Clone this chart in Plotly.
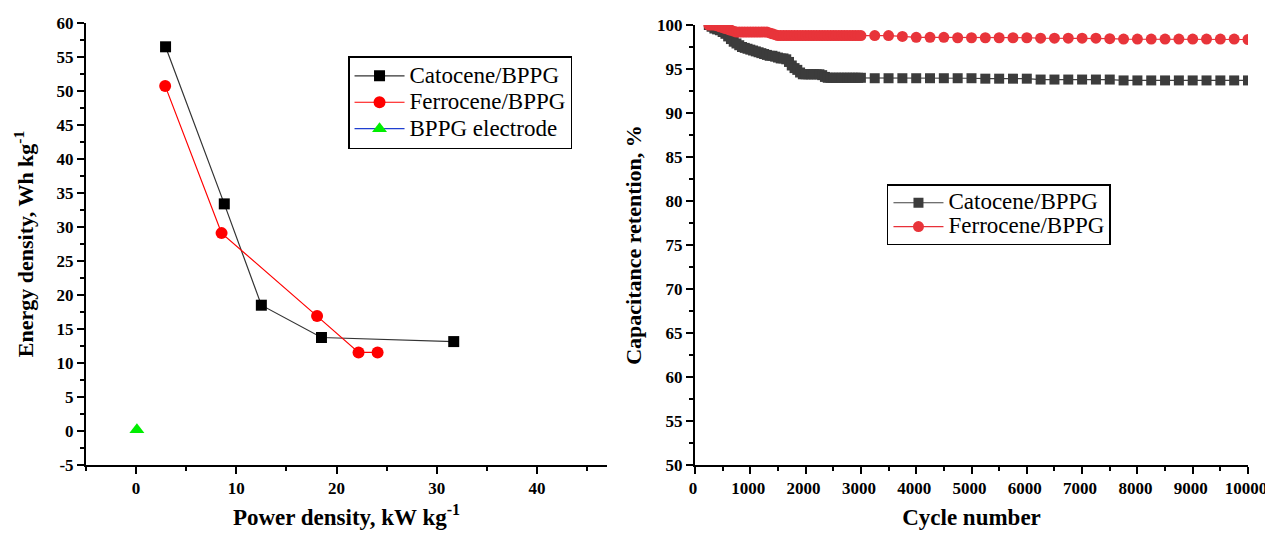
import plotly.graph_objects as go

# ---------------- Left panel data (Ragone plot) ----------------
cat_power = [2.94, 8.8, 12.5, 18.5, 31.7]
cat_energy = [56.5, 33.4, 18.5, 13.75, 13.15]
fer_power = [2.9, 8.53, 18.06, 22.2, 24.1]
fer_energy = [50.75, 29.1, 16.9, 11.55, 11.55]
bppg_power = [0.08]
bppg_energy = [0.2]

left_x_ticks = [0, 10, 20, 30, 40]
left_x_labels = ["0", "10", "20", "30", "40"]
left_y_ticks = [-5, 0, 5, 10, 15, 20, 25, 30, 35, 40, 45, 50, 55, 60]
left_y_labels = ["-5", "0", "5", "10", "15", "20", "25", "30", "35", "40", "45", "50", "55", "60"]

# ---------------- Right panel data (cycling stability) ----------------
right_x_ticks = [0, 1000, 2000, 3000, 4000, 5000, 6000, 7000, 8000, 9000, 10000]
right_x_labels = ["0", "1000", "2000", "3000", "4000", "5000", "6000", "7000", "8000", "9000", "10000"]
right_y_ticks = [50, 55, 60, 65, 70, 75, 80, 85, 90, 95, 100]
right_y_labels = ["50", "55", "60", "65", "70", "75", "80", "85", "90", "95", "100"]

dense_cycles = list(range(250, 3001, 50))
sparse_cycles = list(range(3250, 10001, 250))
cat_dense = [100.0, 99.8, 99.6, 99.5, 99.4, 99.2, 99.0, 98.7, 98.4, 98.1,
             97.9, 97.7, 97.5, 97.4, 97.3, 97.2, 97.1, 97.0, 96.9, 96.8,
             96.7, 96.6, 96.5, 96.5, 96.4, 96.3, 96.2, 96.2, 96.1, 95.8,
             95.4, 95.1, 94.9, 94.6, 94.4, 94.4, 94.4, 94.4, 94.4, 94.4,
             94.4, 94.3, 94.1, 94.0, 94.0, 94.0, 94.0, 94.0, 94.0, 94.0,
             94.0, 94.0, 94.0, 94.0, 94.0, 94.0]
cat_sparse = [93.95, 93.95, 93.95, 93.95, 93.95, 93.95, 93.95, 93.95, 93.9, 93.9,
              93.9, 93.9, 93.8, 93.8, 93.8, 93.8, 93.8, 93.8, 93.7, 93.7,
              93.7, 93.7, 93.7, 93.7, 93.7, 93.7, 93.7, 93.7]
fer_dense = [100.0, 100.0, 100.0, 99.9, 99.8, 99.7, 99.6, 99.5, 99.4, 99.3,
             99.2, 99.2, 99.2, 99.2, 99.2, 99.2, 99.2, 99.2, 99.2, 99.2,
             99.2, 99.2, 99.1, 99.0, 98.9, 98.8, 98.8, 98.8, 98.8, 98.8,
             98.8, 98.8, 98.8, 98.8, 98.8, 98.8, 98.8, 98.8, 98.8, 98.8,
             98.8, 98.8, 98.8, 98.8, 98.8, 98.8, 98.8, 98.8, 98.8, 98.8,
             98.8, 98.8, 98.8, 98.8, 98.8, 98.8]
fer_sparse = [98.8, 98.8, 98.7, 98.6, 98.6, 98.6, 98.55, 98.55, 98.55, 98.55,
              98.55, 98.55, 98.5, 98.5, 98.5, 98.5, 98.5, 98.45, 98.4, 98.4,
              98.4, 98.4, 98.4, 98.4, 98.4, 98.4, 98.4, 98.35]

cycles = dense_cycles + sparse_cycles
cat_ret = cat_dense + cat_sparse
fer_ret = fer_dense + fer_sparse

FONT = "Liberation Serif"
tickfont = dict(family=FONT, size=17, color="black", weight="bold")
xtitlefont = dict(family=FONT, size=23, color="black", weight="bold")
ytitlefont = dict(family=FONT, size=22, color="black", weight="bold")


def bold(labels):
    return ["<b>" + s + "</b>" for s in labels]


def big(name):
    # legend text drawn at 23px while the row height follows the smaller legend font
    return '<span style="font-size:23px">' + name + '</span>'


fig = go.Figure()

fig.add_trace(go.Scatter(
    x=cat_power, y=cat_energy, mode="lines+markers", name=big("Catocene/BPPG"),
    line=dict(color="#333333", width=1.2),
    marker=dict(symbol="square", size=11, color="black"),
    legend="legend", xaxis="x", yaxis="y"))
fig.add_trace(go.Scatter(
    x=fer_power, y=fer_energy, mode="lines+markers", name=big("Ferrocene/BPPG"),
    line=dict(color="#ff0000", width=1.2),
    marker=dict(symbol="circle", size=12, color="#ff0000"),
    legend="legend", xaxis="x", yaxis="y"))
fig.add_trace(go.Scatter(
    x=bppg_power, y=bppg_energy, mode="lines+markers", name=big("BPPG electrode"),
    line=dict(color="#1f3fd0", width=1.2),
    marker=dict(symbol="triangle-up", size=13, color="#00ee00"),
    legend="legend", xaxis="x", yaxis="y"))

fig.add_trace(go.Scatter(
    x=cycles, y=cat_ret, mode="lines+markers", name=big("Catocene/BPPG"),
    line=dict(color="#404040", width=1.2),
    marker=dict(symbol="square", size=10, color="#3c3c3c"),
    legend="legend2", xaxis="x2", yaxis="y2"))
fig.add_trace(go.Scatter(
    x=cycles, y=fer_ret, mode="lines+markers", name=big("Ferrocene/BPPG"),
    line=dict(color="#e83038", width=1.2),
    marker=dict(symbol="circle", size=11, color="#e8343a"),
    legend="legend2", xaxis="x2", yaxis="y2"))

axis_common = dict(showline=True, linecolor="black", linewidth=2, mirror=False,
                   ticks="outside", ticklen=7, tickwidth=2, tickcolor="black",
                   showgrid=False, zeroline=False, tickfont=tickfont,
                   automargin=False, ticklabeloverflow="allow")
minor_style = dict(ticks="outside", ticklen=4, tickwidth=2, tickcolor="black")

# page has an 8px body margin on every side, so the figure is kept 16px
# smaller than the window in both directions (no scrollbars)
fig.update_layout(
    width=1265, height=522,
    margin=dict(l=78, r=25, t=15, b=65, autoexpand=False),
    plot_bgcolor="white", paper_bgcolor="white",
    xaxis=dict(domain=[0, 0.4484], range=[-5, 47],
               tickvals=left_x_ticks, ticktext=bold(left_x_labels),
               minor=dict(dtick=5, tick0=0, **minor_style),
               title=dict(text="Power density, kW kg<sup>-1</sup>", font=xtitlefont, standoff=16),
               anchor="y", **axis_common),
    yaxis=dict(domain=[0, 1], range=[-5, 60],
               tickvals=left_y_ticks, ticktext=bold(left_y_labels),
               minor=dict(dtick=2.5, tick0=0, **minor_style),
               title=dict(text="Energy density, Wh kg<sup>-1</sup>", font=ytitlefont, standoff=17),
               anchor="x", **axis_common),
    xaxis2=dict(domain=[0.5241, 1], range=[0, 10000],
                tickvals=right_x_ticks, ticktext=bold(right_x_labels),
                ticklabelshift=-2,
                minor=dict(dtick=500, tick0=0, **minor_style),
                title=dict(text="Cycle number", font=xtitlefont, standoff=16),
                anchor="y2", **axis_common),
    yaxis2=dict(domain=[0, 0.9955], range=[50, 100],
                tickvals=right_y_ticks, ticktext=bold(right_y_labels),
                minor=dict(dtick=2.5, tick0=0, **minor_style),
                title=dict(text="Capacitance retention, %", font=ytitlefont, standoff=9),
                anchor="x2", **axis_common),
    legend=dict(x=0.2255, y=0.925, xanchor="left", yanchor="top",
                bgcolor="white", bordercolor="black", borderwidth=1.5,
                font=dict(family=FONT, size=18, color="black"),
                itemwidth=50, traceorder="normal"),
    legend2=dict(x=0.6893, y=0.635, xanchor="left", yanchor="top",
                 bgcolor="white", bordercolor="black", borderwidth=1.5,
                 font=dict(family=FONT, size=16, color="black"),
                 itemwidth=50, traceorder="normal"),
    showlegend=True,
)

fig.write_html("out.html")
